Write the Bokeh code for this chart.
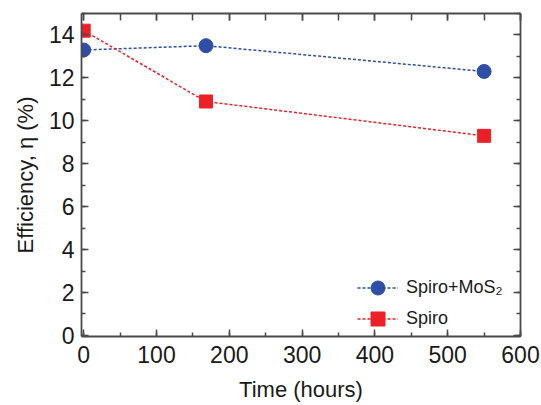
from bokeh.plotting import figure
from bokeh.models import LinearAxis, Range1d, FixedTicker, Legend, LegendItem
from bokeh.embed import file_html
from bokeh.resources import INLINE

time_h = [0, 168, 550]
mos2_eff = [13.3, 13.5, 12.3]
spiro_eff = [14.2, 10.9, 9.3]
x_ticks = [0, 100, 200, 300, 400, 500, 600]
y_ticks = [0, 2, 4, 6, 8, 10, 12, 14]

BLUE = "#2f4ea6"
RED = "#ee2027"
FONT = "Liberation Sans"
AX = "#4a4a4a"
TXT = "#1a1a1a"

p = figure(frame_width=439, frame_height=323, output_backend="svg", toolbar_location=None,
           x_range=Range1d(-3, 600), y_range=Range1d(-0.05, 15))
p.min_border_left = 81
p.min_border_right = 21
p.min_border_top = 13
p.min_border_bottom = 69
p.xgrid.visible = False
p.ygrid.visible = False
p.outline_line_color = None
p.background_fill_color = "white"
p.border_fill_color = "white"

l1 = p.line(time_h, mos2_eff, line_color=BLUE, line_width=1.5, line_dash="3 2")
s1 = p.scatter(time_h, mos2_eff, marker="circle", size=14, fill_color=BLUE, line_color=BLUE)
l2 = p.line(time_h, spiro_eff, line_color=RED, line_width=1.5, line_dash="3 2")
s2 = p.scatter(time_h, spiro_eff, marker="square", size=13, fill_color=RED, line_color=RED)

def style(ax):
    ax.axis_line_color = AX
    ax.axis_line_width = 1.8
    ax.major_tick_line_color = AX
    ax.minor_tick_line_color = AX
    ax.major_tick_line_width = 1.5
    ax.minor_tick_line_width = 1.5
    ax.major_tick_in = 7
    ax.major_tick_out = 0
    ax.minor_tick_in = 4
    ax.minor_tick_out = 0
    ax.major_label_text_font = FONT
    ax.major_label_text_font_size = "23px"
    ax.major_label_text_color = TXT
    ax.axis_label_text_font = FONT
    ax.axis_label_text_font_size = "22px"
    ax.axis_label_text_font_style = "normal"
    ax.axis_label_text_color = TXT

xa = p.xaxis[0]
xa.ticker = FixedTicker(ticks=x_ticks, minor_ticks=list(range(0, 601, 50)))
xa.axis_label = "Time (hours)"
style(xa)
xa.major_label_standoff = 9
xa.axis_label_standoff = 11

ya = p.yaxis[0]
ya.ticker = FixedTicker(ticks=y_ticks, minor_ticks=list(range(0, 16)))
ya.axis_label = "Efficiency, η (%)"
style(ya)
ya.major_label_standoff = 7
ya.axis_label_standoff = 8

top = LinearAxis(ticker=FixedTicker(ticks=x_ticks, minor_ticks=list(range(0, 601, 50))))
style(top)
top.minor_tick_in = 7
top.major_label_overrides = {t: "" for t in x_ticks}
top.major_label_standoff = 0
top.axis_label_standoff = 0
p.add_layout(top, "above")
right = LinearAxis(ticker=FixedTicker(ticks=y_ticks, minor_ticks=list(range(0, 16))))
style(right)
right.major_label_overrides = {t: "" for t in y_ticks}
right.major_label_standoff = 0
right.axis_label_standoff = 0
p.add_layout(right, "right")

def make_legend(label, renderers, loc):
    lg = Legend(items=[LegendItem(label=label, renderers=renderers)], location=loc)
    lg.border_line_color = None
    lg.background_fill_alpha = 0
    lg.padding = 0
    lg.margin = 0
    lg.glyph_width = 41
    lg.glyph_height = 35
    lg.label_standoff = 8
    lg.label_text_font = FONT
    lg.label_text_font_size = "18px"
    lg.label_text_color = TXT
    lg.label_text_baseline = "middle"
    return lg

p.add_layout(make_legend("Spiro+MoS₂", [l1, s1], (276, 31)), "center")
p.add_layout(make_legend("Spiro", [l2, s2], (276, 0)), "center")

open("out.html", "w").write(file_html(p, INLINE))
